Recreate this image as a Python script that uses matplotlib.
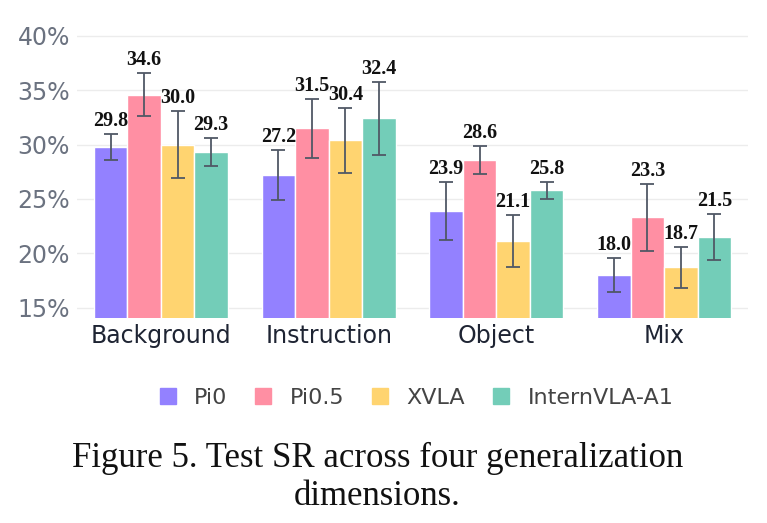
import numpy as np
import matplotlib
matplotlib.use("Agg")
import matplotlib.pyplot as plt
from matplotlib.lines import Line2D

categories = ["Background", "Instruction", "Object", "Mix"]
models = ["Pi0", "Pi0.5", "XVLA", "InternVLA-A1"]
colors = ["#9381ff", "#ff8fa3", "#ffd470", "#73cdb8"]

pi0 = [29.8, 27.2, 23.9, 18.0]
pi05 = [34.6, 31.5, 28.6, 23.3]
xvla = [30.0, 30.4, 21.1, 18.7]
intern = [29.3, 32.4, 25.8, 21.5]

pi0_err = [1.2, 2.3, 2.7, 1.6]
pi05_err = [2.0, 2.7, 1.3, 3.1]
xvla_err = [3.1, 3.0, 2.4, 1.9]
intern_err = [1.3, 3.4, 0.8, 2.1]

values = [pi0, pi05, xvla, intern]
errors = [pi0_err, pi05_err, xvla_err, intern_err]
yticks = [15, 20, 25, 30, 35, 40]
caption = ["Figure 5. Test SR across four generalization", "dimensions."]

fig = plt.figure(figsize=(7.67, 5.23), dpi=100)
ax = fig.add_axes([77 / 767, 1 - 318 / 523, 671 / 767, 293 / 523])

x = np.arange(len(categories))
w = 0.2
for i, (vals, errs) in enumerate(zip(values, errors)):
    pos = x + (i - 1.5) * w
    ax.bar(pos, vals, width=w, color=colors[i], edgecolor="white",
           linewidth=1, zorder=2, label=models[i])
    ax.errorbar(pos, vals, yerr=errs, fmt="none", ecolor="#505866",
                elinewidth=1.3, capsize=5, capthick=1.3, zorder=3)
    for p, v, e in zip(pos, vals, errs):
        ax.annotate(f"{v:.1f}", (p, v + e), xytext=(0, 2),
                    textcoords="offset points", ha="center", va="bottom",
                    fontsize=14.5, fontweight="bold", family="Liberation Serif",
                    color="#111111", zorder=4)

ax.set_xlim(-0.5, 3.5)
ax.set_ylim(14.05, 41.0)
ax.set_yticks(yticks)
ax.set_yticklabels([f"{t}%" for t in yticks])
ax.set_xticks(x)
ax.set_xticklabels(categories)
ax.tick_params(axis="y", length=0, pad=5, labelsize=17, labelcolor="#6b7280")
ax.tick_params(axis="x", length=0, pad=4, labelsize=17, labelcolor="#1e2433")
ax.grid(axis="y", color="#ececec", linewidth=1, zorder=0)
for s in ax.spines.values():
    s.set_visible(False)

handles = [Line2D([], [], marker="s", linestyle="none", markersize=12,
                  markerfacecolor=c, markeredgecolor=c) for c in colors]
leg = fig.legend(handles, models, loc="center", ncol=4, frameon=False,
                 bbox_to_anchor=(416 / 767, 1 - 398 / 523), fontsize=16,
                 handlelength=0.8, handletextpad=0.8, columnspacing=1.2)
for t in leg.get_texts():
    t.set_color("#444444")

# caption, one baseline per line
for line, base in zip(caption, [467, 505]):
    fig.text(0.492, 1 - base / 523, line, ha="center", va="baseline",
             family="Liberation Serif", fontsize=25, color="#111111")

fig.savefig("out.png", dpi=100)
